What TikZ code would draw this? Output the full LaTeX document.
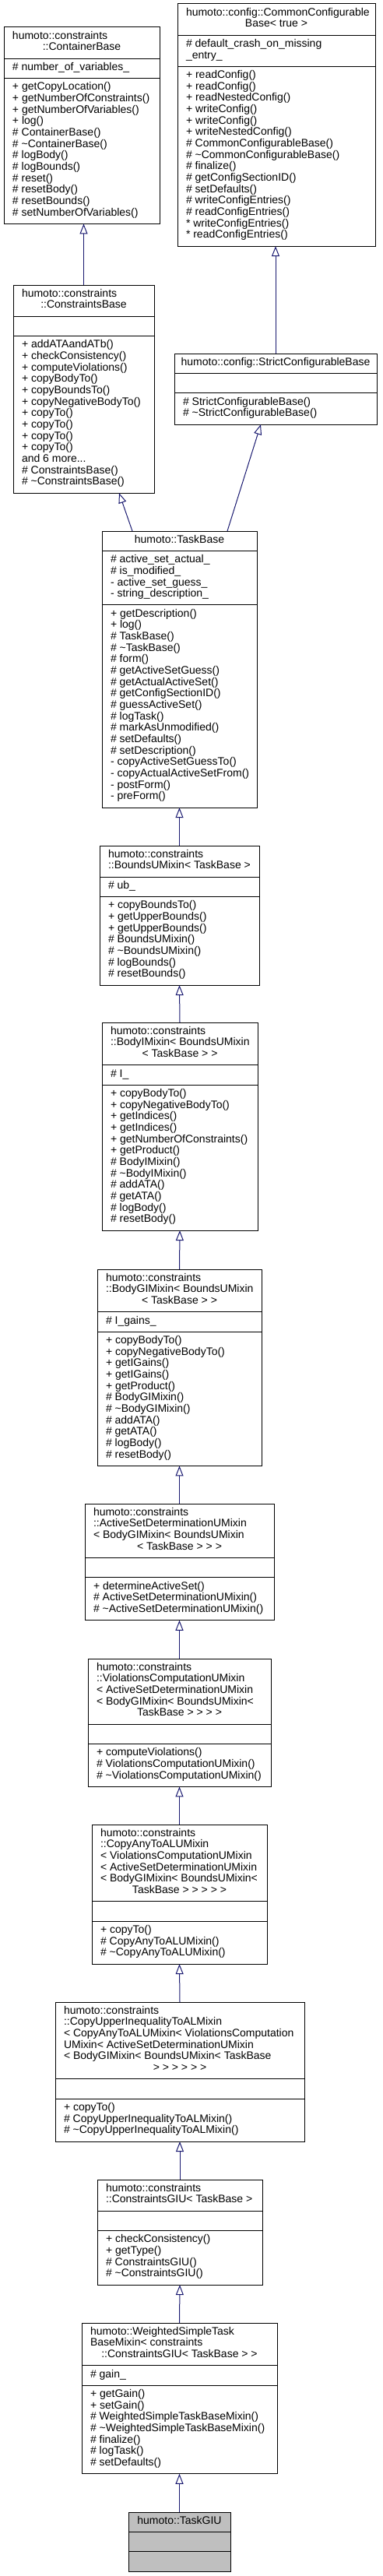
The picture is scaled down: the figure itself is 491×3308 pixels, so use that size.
\documentclass[tikz,border=0pt]{standalone}
\usepackage{fontspec}
\setmainfont{Liberation Sans}
\usetikzlibrary{arrows.meta,calc}
\definecolor{edgeblue}{HTML}{191970}
\definecolor{rootfill}{HTML}{BFBFBF}
\tikzset{
  classbox/.style={draw=black, line width=1pt, inner sep=0pt, outer sep=0pt, anchor=north west},
  sepline/.style={draw=black, line width=1pt},
  txt/.style={inner sep=0pt, outer sep=0pt, text=black, font=\fontsize{14}{14.67}\selectfont},
  inh/.style={draw=edgeblue, line width=1pt, -{Triangle[length=13pt,width=10pt,fill=white]}},
}
\newcommand\umlbox[8]{%
  \pgfmathsetmacro\hT{max(#5,1)*14.67+10.8}%
  \pgfmathsetmacro\hA{max(#6,1)*14.67+10.8}%
  \pgfmathsetmacro\hM{max(#7,1)*14.67+10.8}%
  \pgfmathsetmacro\wB{#3-#2}%
  \pgfmathsetmacro\hB{\hT+\hA+\hM}%
  \pgfmathsetmacro\hTA{\hT+\hA}%
  \node[classbox, fill=#8, minimum width=\wB pt, minimum height=\hB pt] (#1) at (#2,#4) {};
  \coordinate (#1-t) at (#1.north west);
  \coordinate (#1-a) at ($(#1.north west)+(0,\hT)$);
  \coordinate (#1-m) at ($(#1.north west)+(0,\hTA)$);
  \draw[sepline] (#1-a) -- (#1-a -| #1.east);
  \draw[sepline] (#1-m) -- (#1-m -| #1.east);
}
\newcommand\llines[2]{%
  \foreach \s [count=\i from 0] in {#2} {
    \node[txt, anchor=base west] (#1-\i) at ($(#1)+(11,{15.2+\i*14.67})$) {\s};
  }}
\newcommand\ctitle[3]{%
  \node[txt, anchor=base] (#1-c) at ($(#1.north)+(0,{15.2+#2*14.67})$) {#3};}
\begin{document}
\begin{tikzpicture}[x={(1pt,0)}, y={(0,-1pt)}]
\fill[white] (0,0) rectangle (491,3308);
\useasboundingbox (0,0) rectangle (491,3308);

% ContainerBase
\umlbox{cb}{5}{205}{35}{2}{1}{12}{white}
\llines{cb-t}{humoto::constraints}
\ctitle{cb}{1}{::ContainerBase}
\llines{cb-a}{\# number\_of\_variables\_}
\llines{cb-m}{+ getCopyLocation(), + getNumberOfConstraints(), + getNumberOfVariables(), + log(), \# ContainerBase(), \# \textasciitilde ContainerBase(), \# logBody(), \# logBounds(), \# reset(), \# resetBody(), \# resetBounds(), \# setNumberOfVariables()}

% CommonConfigurableBase
\umlbox{ccb}{228}{482}{5}{2}{2}{15}{white}
\llines{ccb-t}{humoto::config::CommonConfigurable}
\ctitle{ccb}{1}{Base< true >}
\llines{ccb-a}{\# default\_crash\_on\_missing, \_entry\_}
\llines{ccb-m}{+ readConfig(), + readConfig(), + readNestedConfig(), + writeConfig(), + writeConfig(), + writeNestedConfig(), \# CommonConfigurableBase(), \# \textasciitilde CommonConfigurableBase(), \# finalize(), \# getConfigSectionID(), \# setDefaults(), \# writeConfigEntries(), \# readConfigEntries(), * writeConfigEntries(), * readConfigEntries()}

% ConstraintsBase
\umlbox{csb}{17}{198}{366}{2}{0}{13}{white}
\llines{csb-t}{humoto::constraints}
\ctitle{csb}{1}{::ConstraintsBase}
\llines{csb-m}{+ addATAandATb(), + checkConsistency(), + computeViolations(), + copyBodyTo(), + copyBoundsTo(), + copyNegativeBodyTo(), + copyTo(), + copyTo(), + copyTo(), + copyTo(), {and 6 more.{}.{}.}, \# ConstraintsBase(), \# \textasciitilde ConstraintsBase()}

% StrictConfigurableBase
\umlbox{scb}{224}{484}{454}{1}{0}{2}{white}
\ctitle{scb}{0}{humoto::config::StrictConfigurableBase}
\llines{scb-m}{\# StrictConfigurableBase(), \# \textasciitilde StrictConfigurableBase()}

% TaskBase
\umlbox{tb}{131}{330}{682}{1}{4}{17}{white}
\ctitle{tb}{0}{humoto::TaskBase}
\llines{tb-a}{\# active\_set\_actual\_, \# is\_modified\_, - active\_set\_guess\_, - string\_description\_}
\llines{tb-m}{+ getDescription(), + log(), \# TaskBase(), \# \textasciitilde TaskBase(), \# form(), \# getActiveSetGuess(), \# getActualActiveSet(), \# getConfigSectionID(), \# guessActiveSet(), \# logTask(), \# markAsUnmodified(), \# setDefaults(), \# setDescription(), - copyActiveSetGuessTo(), - copyActualActiveSetFrom(), - postForm(), - preForm()}

% BoundsUMixin
\umlbox{bu}{128}{333}{1086}{2}{1}{7}{white}
\llines{bu-t}{humoto::constraints, ::BoundsUMixin< TaskBase >}
\llines{bu-a}{\# ub\_}
\llines{bu-m}{+ copyBoundsTo(), + getUpperBounds(), + getUpperBounds(), \# BoundsUMixin(), \# \textasciitilde BoundsUMixin(), \# logBounds(), \# resetBounds()}

% BodyIMixin
\umlbox{bi}{131}{331}{1313}{3}{1}{12}{white}
\llines{bi-t}{humoto::constraints, ::BodyIMixin< BoundsUMixin}
\ctitle{bi}{2}{< TaskBase > >}
\llines{bi-a}{\# I\_}
\llines{bi-m}{+ copyBodyTo(), + copyNegativeBodyTo(), + getIndices(), + getIndices(), + getNumberOfConstraints(), + getProduct(), \# BodyIMixin(), \# \textasciitilde BodyIMixin(), \# addATA(), \# getATA(), \# logBody(), \# resetBody()}

% BodyGIMixin
\umlbox{bgi}{125}{336}{1630}{3}{1}{11}{white}
\llines{bgi-t}{humoto::constraints, ::BodyGIMixin< BoundsUMixin}
\ctitle{bgi}{2}{< TaskBase > >}
\llines{bgi-a}{\# I\_gains\_}
\llines{bgi-m}{+ copyBodyTo(), + copyNegativeBodyTo(), + getIGains(), + getIGains(), + getProduct(), \# BodyGIMixin(), \# \textasciitilde BodyGIMixin(), \# addATA(), \# getATA(), \# logBody(), \# resetBody()}

% ActiveSetDeterminationUMixin
\umlbox{asd}{109}{352}{1931}{4}{0}{3}{white}
\llines{asd-t}{humoto::constraints, ::ActiveSetDeterminationUMixin, < BodyGIMixin< BoundsUMixin}
\ctitle{asd}{3}{< TaskBase > > >}
\llines{asd-m}{+ determineActiveSet(), \# ActiveSetDeterminationUMixin(), \# \textasciitilde ActiveSetDeterminationUMixin()}

% ViolationsComputationUMixin
\umlbox{vc}{113}{348}{2130}{5}{0}{3}{white}
\llines{vc-t}{humoto::constraints, ::ViolationsComputationUMixin, < ActiveSetDeterminationUMixin, < BodyGIMixin< BoundsUMixin<}
\ctitle{vc}{4}{TaskBase > > > >}
\llines{vc-m}{+ computeViolations(), \# ViolationsComputationUMixin(), \# \textasciitilde ViolationsComputationUMixin()}

% CopyAnyToALUMixin
\umlbox{ca}{118}{343}{2343}{6}{0}{3}{white}
\llines{ca-t}{humoto::constraints, ::CopyAnyToALUMixin, < ViolationsComputationUMixin, < ActiveSetDeterminationUMixin, < BodyGIMixin< BoundsUMixin<}
\ctitle{ca}{5}{TaskBase > > > > >}
\llines{ca-m}{+ copyTo(), \# CopyAnyToALUMixin(), \# \textasciitilde CopyAnyToALUMixin()}

% CopyUpperInequalityToALMixin
\umlbox{cu}{71}{391}{2571}{6}{0}{3}{white}
\llines{cu-t}{humoto::constraints, ::CopyUpperInequalityToALMixin, < CopyAnyToALUMixin< ViolationsComputation, UMixin< ActiveSetDeterminationUMixin, < BodyGIMixin< BoundsUMixin< TaskBase}
\ctitle{cu}{5}{> > > > > >}
\llines{cu-m}{+ copyTo(), \# CopyUpperInequalityToALMixin(), \# \textasciitilde CopyUpperInequalityToALMixin()}

% ConstraintsGIU
\umlbox{giu}{125}{337}{2799}{2}{0}{4}{white}
\llines{giu-t}{humoto::constraints, ::ConstraintsGIU< TaskBase >}
\llines{giu-m}{+ checkConsistency(), + getType(), \# ConstraintsGIU(), \# \textasciitilde ConstraintsGIU()}

% WeightedSimpleTaskBaseMixin
\umlbox{ws}{105}{356}{2983}{3}{1}{7}{white}
\llines{ws-t}{humoto::WeightedSimpleTask, BaseMixin< constraints}
\ctitle{ws}{2}{::ConstraintsGIU< TaskBase > >}
\llines{ws-a}{\# gain\_}
\llines{ws-m}{+ getGain(), + setGain(), \# WeightedSimpleTaskBaseMixin(), \# \textasciitilde WeightedSimpleTaskBaseMixin(), \# finalize(), \# logTask(), \# setDefaults()}

% TaskGIU
\umlbox{tg}{165}{296}{3226}{1}{0}{0}{rootfill}
\ctitle{tg}{0}{humoto::TaskGIU}

% inheritance connectors (child -> parent)
\draw[inh] (csb.north) -- (csb.north |- cb.south);
\draw[inh] (scb.north) -- (scb.north |- ccb.south);
\draw[inh] ($(tb.north west)+(39,0)$) -- ($(csb.south west)+(136,0)$);
\draw[inh] ($(tb.north west)+(161,0)$) -- ($(scb.south west)+(111,0)$);
\draw[inh] (bu.north) -- (tb.south);
\draw[inh] (bi.north) -- (bu.south);
\draw[inh] (bgi.north) -- (bi.south);
\draw[inh] (asd.north) -- (bgi.south);
\draw[inh] (vc.north) -- (asd.south);
\draw[inh] (ca.north) -- (vc.south);
\draw[inh] (cu.north) -- (ca.south);
\draw[inh] (giu.north) -- (cu.south);
\draw[inh] (ws.north) -- (giu.south);
\draw[inh] (tg.north) -- (ws.south);
\end{tikzpicture}
\end{document}
